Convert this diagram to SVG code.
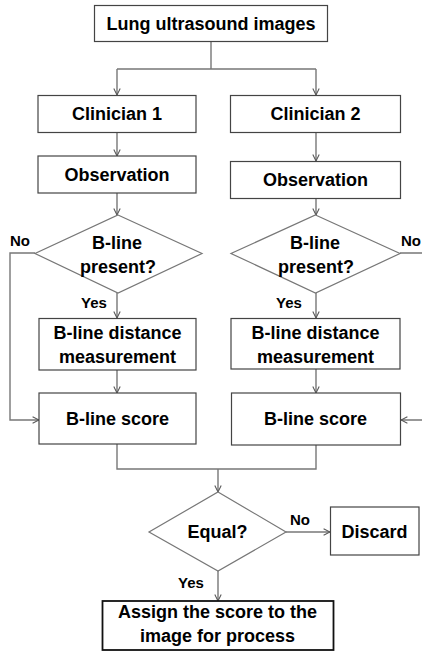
<svg xmlns="http://www.w3.org/2000/svg" width="422" height="654" viewBox="0 0 422 654">
<style>
.box{fill:#fff;stroke:#444;stroke-width:1.2}
.dia{fill:#fff;stroke:#777;stroke-width:1.2}
.t{font-family:"Liberation Sans",Arial,sans-serif;font-weight:bold;font-size:18px;fill:#000;text-anchor:middle}
.l{font-family:"Liberation Sans",Arial,sans-serif;font-weight:bold;font-size:15px;fill:#000}
.c{fill:none;stroke:#777;stroke-width:1.4}
</style>
<defs>
<marker id="ah" viewBox="0 0 10 10" refX="9" refY="5" markerWidth="8" markerHeight="8" markerUnits="userSpaceOnUse" orient="auto">
<path d="M1,1 L9,5 L1,9" fill="none" stroke="#555" stroke-width="1.3"/>
</marker>
</defs>
<g id="connectors">
<path class="c" d="M211,41 V69 M117,69 H316"/>
<path class="c" d="M117,69 V95" marker-end="url(#ah)"/>
<path class="c" d="M316,69 V95" marker-end="url(#ah)"/>
<path class="c" d="M117,132 V156" marker-end="url(#ah)"/>
<path class="c" d="M316,132 V161" marker-end="url(#ah)"/>
<path class="c" d="M117,193 V215" marker-end="url(#ah)"/>
<path class="c" d="M316,198 V215" marker-end="url(#ah)"/>
<path class="c" d="M117,293 V318" marker-end="url(#ah)"/>
<path class="c" d="M316,293 V318" marker-end="url(#ah)"/>
<path class="c" d="M117,370 V393" marker-end="url(#ah)"/>
<path class="c" d="M316,369 V393" marker-end="url(#ah)"/>
<path class="c" d="M35,253 H10 V420 H39" marker-end="url(#ah)"/>
<path class="c" d="M400,253 H430 V420 H401" marker-end="url(#ah)"/>
<path class="c" d="M117,444 V469 H316 V445"/>
<path class="c" d="M218,469 V492" marker-end="url(#ah)"/>
<path class="c" d="M286,532 H330" marker-end="url(#ah)"/>
<path class="c" d="M218,571 V601" marker-end="url(#ah)"/>
</g>
<g id="n-lung"><rect class="box" x="94.5" y="5.5" width="233" height="36"/><text class="t" x="211" y="30">Lung ultrasound images</text></g>
<g id="n-c1"><rect class="box" x="38" y="95.5" width="158" height="37"/><text class="t" x="117" y="120">Clinician 1</text></g>
<g id="n-c2"><rect class="box" x="230.5" y="95.5" width="170" height="37"/><text class="t" x="315.5" y="120">Clinician 2</text></g>
<g id="n-o1"><rect class="box" x="38" y="156" width="158" height="37"/><text class="t" x="117" y="181">Observation</text></g>
<g id="n-o2"><rect class="box" x="230.5" y="161.5" width="170" height="37"/><text class="t" x="315.5" y="186">Observation</text></g>
<g id="n-d1"><polygon class="dia" points="118,215 202,253.5 118,293 35,253.5"/><text class="t" x="117" y="249">B-line</text><text class="t" x="118" y="273">present?</text><text class="l" x="10" y="246">No</text><text class="l" x="81" y="308">Yes</text></g>
<g id="n-d2"><polygon class="dia" points="315.5,215 400,253.5 315.5,293 231,253.5"/><text class="t" x="315" y="249">B-line</text><text class="t" x="316" y="273">present?</text><text class="l" x="401" y="246">No</text><text class="l" x="276" y="308">Yes</text></g>
<g id="n-m1"><rect class="box" x="39" y="318.5" width="157" height="51.5"/><text class="t" x="117.5" y="339">B-line distance</text><text class="t" x="117.5" y="362.5">measurement</text></g>
<g id="n-m2"><rect class="box" x="231" y="318.5" width="169" height="50.5"/><text class="t" x="315.5" y="339">B-line distance</text><text class="t" x="315.5" y="362.5">measurement</text></g>
<g id="n-s1"><rect class="box" x="39" y="393" width="157" height="51"/><text class="t" x="117.5" y="424.5">B-line score</text></g>
<g id="n-s2"><rect class="box" x="231.5" y="393" width="169" height="52"/><text class="t" x="315.5" y="424.5">B-line score</text></g>
<g id="n-eq"><polygon class="dia" points="218,492 286,532 218,571 149,532"/><text class="t" x="217.5" y="538">Equal?</text><text class="l" x="290" y="525">No</text><text class="l" x="178" y="588">Yes</text></g>
<g id="n-discard"><rect class="box" x="330.5" y="507" width="88.5" height="48"/><text class="t" x="374.5" y="537.5">Discard</text></g>
<g id="n-assign"><rect x="102.5" y="601" width="231" height="49" fill="#fff" stroke="#111" stroke-width="1.8"/><text class="t" x="217.5" y="618">Assign the score to the</text><text class="t" x="217.5" y="641.5">image for process</text></g>
</svg>
